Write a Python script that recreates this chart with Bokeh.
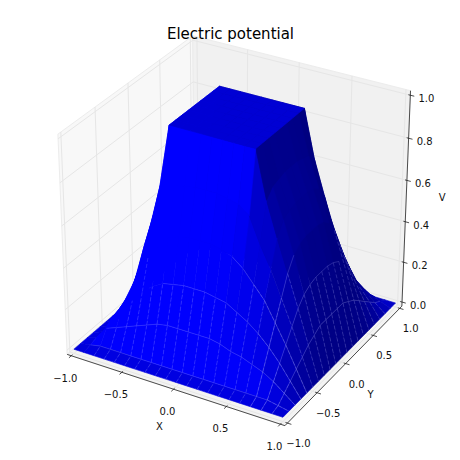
import numpy as np
from bokeh.core.properties import value
from bokeh.embed import file_html
from bokeh.models import ColumnDataSource, Label, Range1d
from bokeh.plotting import figure
from bokeh.resources import INLINE

TITLE = "Electric potential"
X_TICKS = [-1.0, -0.5, 0.0, 0.5, 1.0]
Y_TICKS = [-1.0, -0.5, 0.0, 0.5, 1.0]
Z_TICKS = [0.0, 0.2, 0.4, 0.6, 0.8, 1.0]
X_LABELS = ["\u22121.0", "\u22120.5", "0.0", "0.5", "1.0"]
Y_LABELS = ["\u22121.0", "\u22120.5", "0.0", "0.5", "1.0"]
Z_LABELS = ["0.0", "0.2", "0.4", "0.6", "0.8", "1.0"]
# potential, for |x| and |y| = 0.0, 0.1, ... 1.0
V_QUADRANT = [
    [1, 1, 1, 1, 1, .84, .71, .57, .39, .20, 0],
    [1, 1, 1, 1, 1, .84, .71, .57, .39, .20, 0],
    [1, 1, 1, 1, 1, .83, .70, .56, .38, .20, 0],
    [1, 1, 1, 1, 1, .82, .68, .53, .36, .18, 0],
    [1, 1, 1, 1, 1, .78, .62, .47, .32, .16, 0],
    [.84, .84, .83, .82, .78, .62, .50, .38, .26, .13, 0],
    [.71, .71, .70, .68, .62, .50, .38, .29, .19, .10, 0],
    [.57, .57, .56, .53, .47, .38, .29, .21, .13, .07, 0],
    [.39, .39, .38, .36, .32, .26, .19, .13, .09, .04, 0],
    [.20, .20, .20, .18, .16, .13, .10, .07, .04, .02, 0],
    [0, 0, 0, 0, 0, 0, 0, 0, 0, 0, 0],
]
# near face: y = -0.5 ... -0.9 (rows), |x| = 0.0, 0.1 ... (columns)
V_FRONT = [
    [.78, .78, .77, .76, .72, .60],
    [.57, .57, .56, .54, .50, .42, .34],
    [.37, .37, .36, .35, .32, .28, .22, .18],
    [.19, .19, .19, .18, .16, .14, .12, .10, .08],
    [.02, .02, .02, .02, .02, .02, .02, .02, .02, .01],
]
# left silhouette: x = -0.5 ... -0.9 (rows), y = 0.0, -0.1 ... (columns)
V_LEFT = [
    [.80, .80, .79, .77, .70, .60],
    [.62, .61, .60, .55, .50, .43, .34],
    [.45, .44, .42, .36, .31, .25, .20, .18],
    [.26, .25, .22, .18, .16, .14, .12, .11, .08],
    [.02, .02, .02, .02, .02, .02, .02, .02, .02, .01],
]
# near corner: y = -0.4 ... -0.9 (rows), x = 0.4 ... 1.0 (columns)
V_CORNER = [
    [1, .78, .62, .47, .32, .16, 0],
    [.72, .60, .50, .38, .26, .13, 0],
    [.50, .44, .38, .29, .20, .10, 0],
    [.32, .29, .25, .20, .14, .07, 0],
    [.16, .15, .13, .11, .08, .04, 0],
    [.02, .02, .02, .02, .02, .01, 0],
]
N = 21
AXIS = [round(-1 + 0.1 * i, 1) for i in range(N)]
FIG = 460
SCALE = 2413.0
CX, CY = 236.7, 223.3
SHADE_LOW, SHADE_HIGH = -0.5, 0.75


def V(i, j):
    a, b = abs(i - 10), abs(j - 10)
    if i == 0 or i == 20 or j == 0 or j == 20:
        return 0
    if i >= 14 and j <= 6:
        return V_CORNER[6 - j][i - 14]
    if i < 10 and j <= 10 and a >= b and a >= 5:
        return V_LEFT[a - 5][b]
    if j <= 5:
        return V_FRONT[b - 5][a]
    return V_QUADRANT[b][a]


dirn = np.array([0.4330127, -0.75, 0.5])
ux = np.array([0.8660254, 0.5, 0.0])
uy = np.array([-0.25, 0.4330127, 0.8660254])


def project(x, y, z):
    q = np.array([x / 2.0, y / 2.0, z - 0.5])
    w = 10.0 - q.dot(dirn)
    return q.dot(ux) / w, q.dot(uy) / w, w


def poly(points):
    a = [project(*pt) for pt in points]
    return [b[0] for b in a], [b[1] for b in a]


p = figure(width=FIG, height=FIG, output_backend="svg", toolbar_location=None,
           x_axis_type=None, y_axis_type=None, min_border=0,
           x_range=Range1d((0 - CX) / SCALE, (FIG - CX) / SCALE),
           y_range=Range1d((CY - FIG) / SCALE, CY / SCALE))
p.outline_line_color = None
p.grid.visible = False

# box edges sit 1/48 of a range outside the data limits
dx = 2.0 / 48
dz = 1.0 / 48
lo, hi = -1 - dx, 1 + dx
zl, zh = -dz, 1 + dz

pane_x, pane_y = poly([(lo, lo, zl), (lo, hi, zl), (lo, hi, zh), (lo, lo, zh)])
p.patch(pane_x, pane_y, fill_color="#f8f8f8", line_color="#ececec", line_width=1)
pane_x, pane_y = poly([(lo, hi, zl), (hi, hi, zl), (hi, hi, zh), (lo, hi, zh)])
p.patch(pane_x, pane_y, fill_color="#f1f1f1", line_color="#ececec", line_width=1)
pane_x, pane_y = poly([(lo, lo, zl), (hi, lo, zl), (hi, hi, zl), (lo, hi, zl)])
p.patch(pane_x, pane_y, fill_color="#f3f3f3", line_color="#ececec", line_width=1)

gx, gy = [], []
for t in X_TICKS:
    a, b = poly([(t, lo, zl), (t, hi, zl), (t, hi, zh)])
    gx.append(a); gy.append(b)
for t in Y_TICKS:
    a, b = poly([(hi, t, zl), (lo, t, zl), (lo, t, zh)])
    gx.append(a); gy.append(b)
for t in Z_TICKS:
    a, b = poly([(hi, hi, t), (lo, hi, t), (lo, lo, t)])
    gx.append(a); gy.append(b)
p.multi_line(gx, gy, line_color="#e6e6e6", line_width=1)

# surface, painted far to near with Matplotlib's light direction
light = np.array([-1.0, -1.0, 0.5])
light /= np.linalg.norm(light)
quads = []
for j in range(N - 1):
    for i in range(N - 1):
        corners = [(AXIS[i], AXIS[j], V(i, j)), (AXIS[i + 1], AXIS[j], V(i + 1, j)),
                   (AXIS[i + 1], AXIS[j + 1], V(i + 1, j + 1)), (AXIS[i], AXIS[j + 1], V(i, j + 1))]
        c = np.array(corners)
        normal = np.cross(c[2] - c[0], c[3] - c[1])
        normal /= np.linalg.norm(normal)
        depth = np.mean([project(*pt)[2] for pt in corners])
        quads.append((depth, corners, normal.dot(light)))
quads.sort(key=lambda q: -q[0])
xs, ys, cols = [], [], []
for depth, corners, s in quads:
    a, b = poly(corners)
    xs.append(a); ys.append(b)
    t = min(1.0, max(0.0, (s - SHADE_LOW) / (SHADE_HIGH - SHADE_LOW)))
    cols.append("#0000%02x" % int(round(255 * (0.5 + 0.5 * t))))
p.patches(xs="x", ys="y", fill_color="c", line_color="c", line_width=0.6,
          source=ColumnDataSource(dict(x=xs, y=ys, c=cols)))

# faint seams on the faces turned to the viewer
ZCUT = 0.5
rx, ry = [], []
for j in range(1, N - 1):
    for i in range(N - 1):
        if AXIS[i] > AXIS[j] and V(i, j) < ZCUT and V(i + 1, j) < ZCUT and AXIS[i] + AXIS[j] >= -0.1:
            a, b = poly([(AXIS[i], AXIS[j], V(i, j)), (AXIS[i + 1], AXIS[j], V(i + 1, j))])
            rx.append(a); ry.append(b)
for i in range(1, N - 1):
    for j in range(N - 1):
        if AXIS[i] > AXIS[j + 1] and V(i, j) < ZCUT and V(i, j + 1) < ZCUT and AXIS[i] + AXIS[j] < 0.1:
            a, b = poly([(AXIS[i], AXIS[j], V(i, j)), (AXIS[i], AXIS[j + 1], V(i, j + 1))])
            rx.append(a); ry.append(b)
p.multi_line(rx, ry, line_color="#b4b4ff", line_alpha=0.3, line_width=0.7, line_dash="4 2")

# the rim and the rows that read as arcs
ARC_ROWS = [1, 2, 3, 4]
ARC_ROW_START = [1, 2, 7, 13]
ax, ay = [], []
for j, s in zip(ARC_ROWS, ARC_ROW_START):
    a, b = poly([(AXIS[i], AXIS[j], V(i, j)) for i in range(s, N)])
    ax.append(a); ay.append(b)
ARC_COLS = [19, 18, 17]
ARC_COL_END = [19, 13, 7]
for i, e in zip(ARC_COLS, ARC_COL_END):
    a, b = poly([(AXIS[i], AXIS[j], V(i, j)) for j in range(0, e + 1)])
    ax.append(a); ay.append(b)
p.multi_line(ax, ay, line_color="#b4b4ff", line_alpha=0.3, line_width=0.7)

# axis lines and ticks
lx, ly = [], []
a, b = poly([(lo, lo, zl), (hi, lo, zl)]); lx.append(a); ly.append(b)
a, b = poly([(hi, lo, zl), (hi, hi, zl)]); lx.append(a); ly.append(b)
a, b = poly([(hi, hi, zl), (hi, hi, zh)]); lx.append(a); ly.append(b)
OUT, IN = 0.036, 0.018
for t in X_TICKS:
    a, b = poly([(t, lo - OUT, zl), (t, lo + IN, zl)]); lx.append(a); ly.append(b)
for t in Y_TICKS:
    a, b = poly([(hi + OUT, t, zl), (hi - IN, t, zl)]); lx.append(a); ly.append(b)
for t in Z_TICKS:
    a, b = poly([(hi + OUT, hi, t), (hi - IN, hi, t)]); lx.append(a); ly.append(b)
p.multi_line(lx, ly, line_color="#222222", line_width=0.8)


def labels(points, texts, off_x, off_y, size="10px"):
    u = [project(*pt)[0] for pt in points]
    v = [project(*pt)[1] for pt in points]
    p.text(x="x", y="y", text="t", source=ColumnDataSource(dict(x=u, y=v, t=texts)),
           x_offset=off_x, y_offset=off_y, text_font=value("DejaVu Sans"),
           text_font_size=value(size), text_align="center", text_baseline="middle",
           text_color="#111111")


labels([(t, lo, zl) for t in X_TICKS], X_LABELS, -6, 22)
labels([(hi, t, zl) for t in Y_TICKS], Y_LABELS, 11, 20)
labels([(hi, hi, t) for t in Z_TICKS], Z_LABELS, 16, 3)
labels([(0.0, lo, zl)], ["X"], -14, 37)
labels([(hi, 0.0, zl)], ["Y"], 25, 31)
labels([(hi, hi, 0.5)], ["V"], 36, -4)

p.add_layout(Label(x=230, y=FIG - 33, x_units="screen", y_units="screen",
                   text=TITLE, text_font="DejaVu Sans", text_font_size="15px",
                   text_align="center", text_baseline="middle", text_color="#000000"))

open("out.html", "w").write(file_html(p, INLINE))
